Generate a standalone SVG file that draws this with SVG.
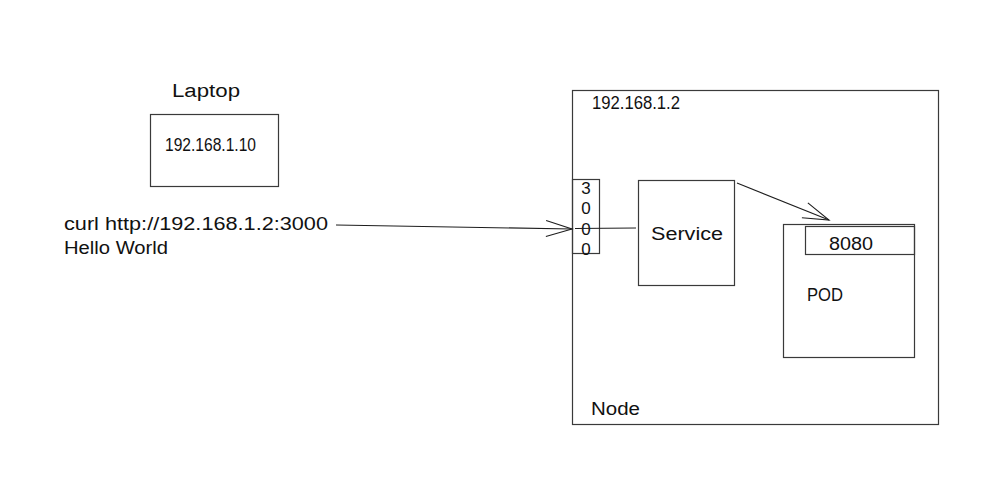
<svg xmlns="http://www.w3.org/2000/svg" width="1007" height="489" viewBox="0 0 1007 489">
<defs>
<style>
.box{fill:none;stroke:#3a3a3a;stroke-width:1.2}
.ln{fill:none;stroke:#1e1e1e;stroke-width:1.1}
.t{font-family:"Liberation Sans",sans-serif;fill:#111;font-size:18px}
.d{font-family:"Liberation Sans",sans-serif;fill:#111;font-size:17px;text-anchor:middle}
</style>
<marker id="arr" markerWidth="30" markerHeight="20" refX="28" refY="10" orient="auto" markerUnits="userSpaceOnUse">
<path d="M2,2 L28,10 L2,18" fill="none" stroke="#1e1e1e" stroke-width="1.1"/>
</marker>
</defs>
<rect width="1007" height="489" fill="#fff"/>
<g id="laptop">
<text class="t" x="172" y="97" textLength="68" lengthAdjust="spacingAndGlyphs">Laptop</text>
<rect class="box" x="150.5" y="114.5" width="128" height="72"/>
<text class="t" x="165" y="151" textLength="91" lengthAdjust="spacingAndGlyphs">192.168.1.10</text>
</g>
<g id="curl">
<text class="t" x="64" y="230" textLength="264" lengthAdjust="spacingAndGlyphs">curl http://192.168.1.2:3000</text>
<text class="t" x="64" y="254" textLength="104" lengthAdjust="spacingAndGlyphs">Hello World</text>
</g>
<g id="node">
<rect class="box" x="572.5" y="90.5" width="366" height="334"/>
<text class="t" x="592" y="109" textLength="88" lengthAdjust="spacingAndGlyphs">192.168.1.2</text>
<text class="t" x="591" y="415" textLength="49" lengthAdjust="spacingAndGlyphs">Node</text>
</g>
<g id="port">
<rect class="box" x="572.5" y="179.5" width="27" height="74"/>
<text class="d" x="586" y="194">3</text>
<text class="d" x="586" y="214">0</text>
<text class="d" x="586" y="234.5">0</text>
<text class="d" x="586" y="254.5">0</text>
</g>
<g id="service">
<rect class="box" x="638.5" y="180.5" width="96" height="105"/>
<text class="t" x="651" y="240" textLength="72" lengthAdjust="spacingAndGlyphs">Service</text>
</g>
<g id="pod">
<rect class="box" x="783.5" y="224.5" width="131" height="133"/>
<rect class="box" x="805.5" y="226.5" width="109" height="28"/>
<text class="t" x="829" y="250" textLength="44" lengthAdjust="spacingAndGlyphs">8080</text>
<text class="t" x="807" y="301" textLength="36" lengthAdjust="spacingAndGlyphs">POD</text>
</g>
<g id="connectors">
<path class="ln" d="M336,225 L572,229" marker-end="url(#arr)"/>
<path class="ln" d="M575,228.5 L636,228"/>
<path class="ln" d="M737,183 L829,220" marker-end="url(#arr)"/>
</g>
</svg>
